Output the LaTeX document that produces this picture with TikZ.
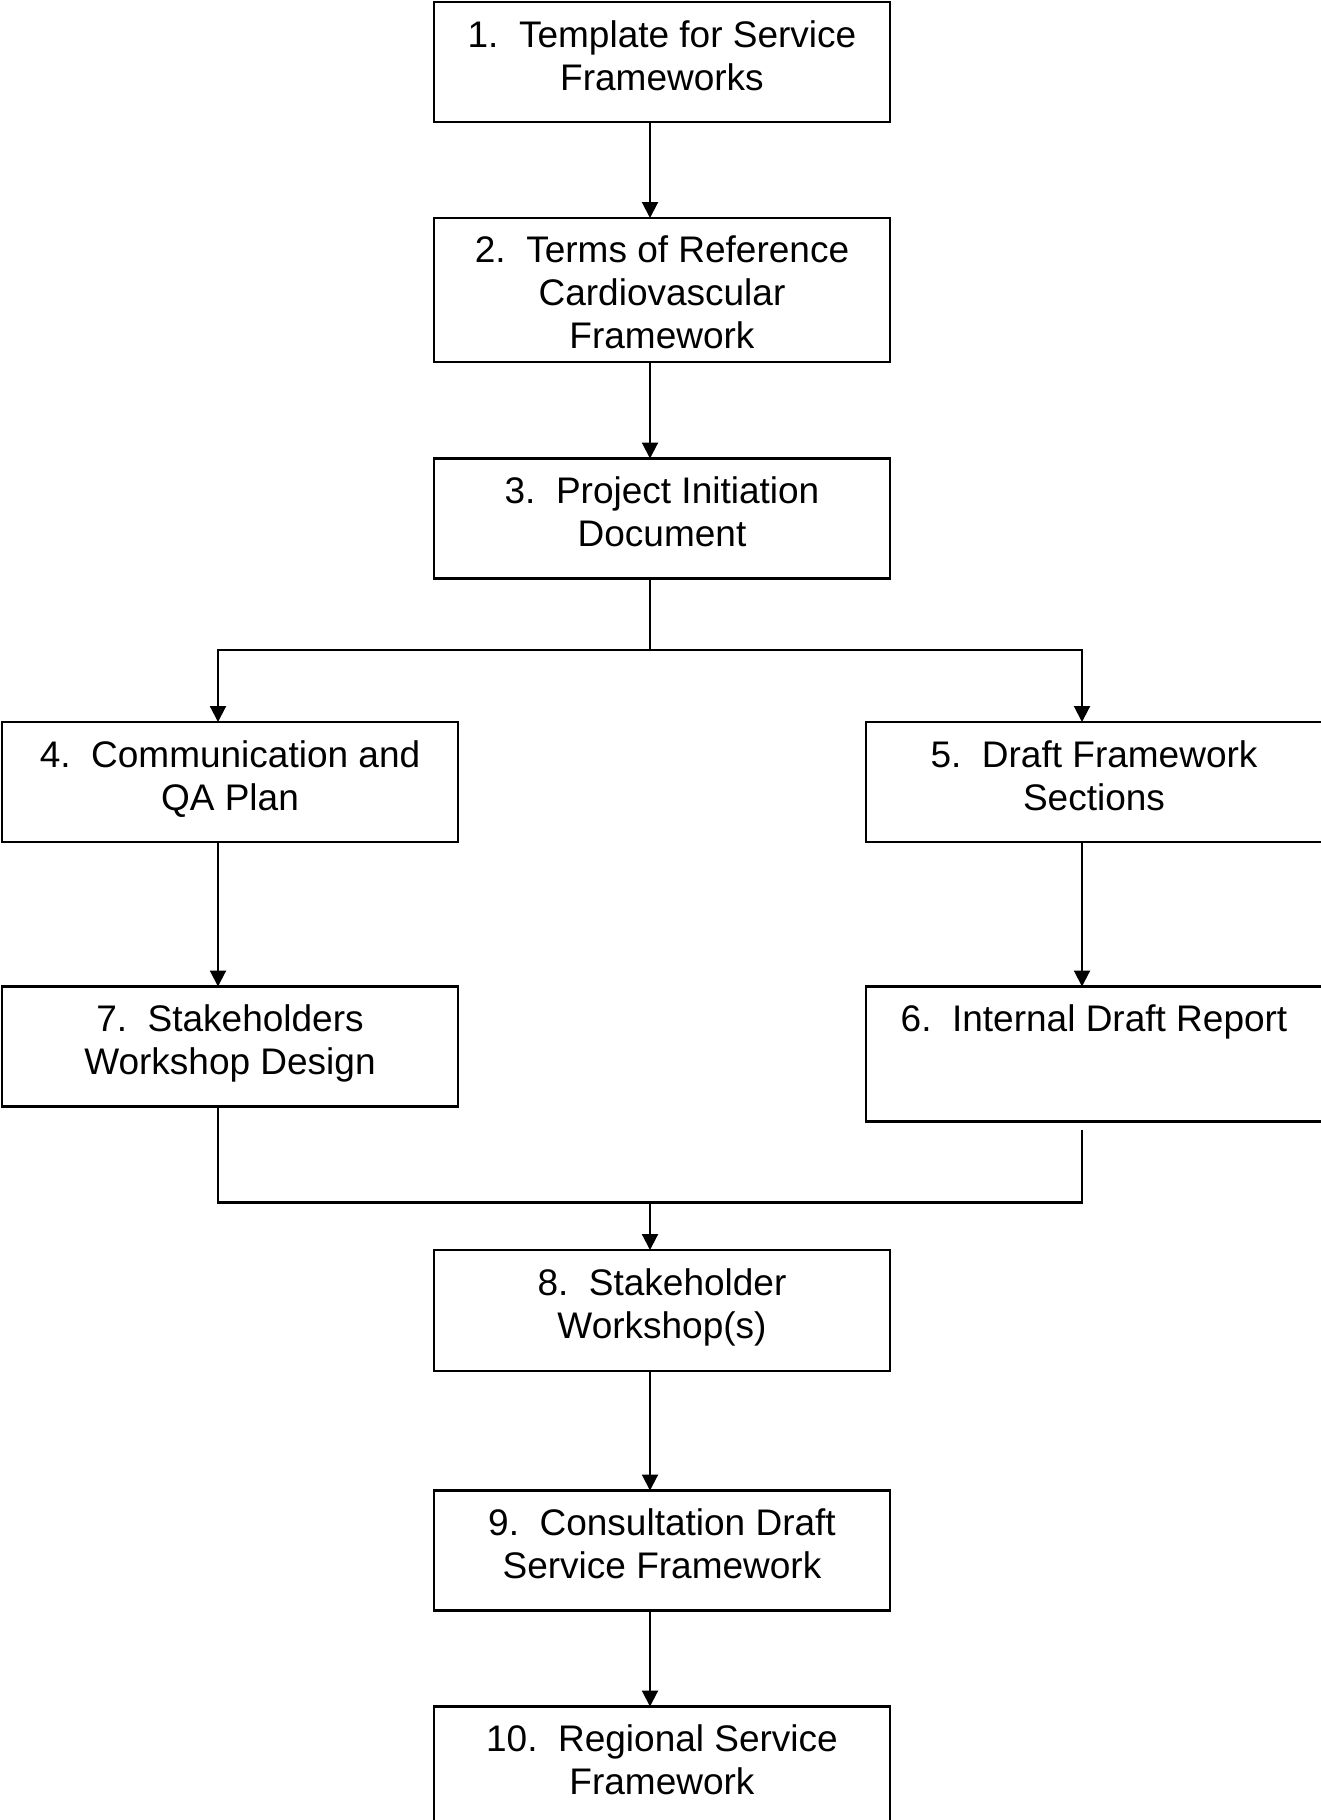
\documentclass[tikz,border=0pt]{standalone}
\usepackage{fontspec}
\setmainfont{Liberation Sans}
\usetikzlibrary{arrows.meta}
\begin{document}
\begin{tikzpicture}[x=1pt,y=-1pt,
  box/.style={draw, line width=2.1pt, rectangle, minimum width=456pt, inner sep=0pt, outer sep=0pt, anchor=north west},
  lbl/.style={font=\fontsize{37}{43}\selectfont, align=center, anchor=base, inner sep=0pt},
  arr/.style={line width=2.1pt, -{Triangle[length=16pt,width=16pt]}},
  ln/.style={line width=2.1pt}]
\useasboundingbox (0,0) rectangle (1321,1820);
\clip (0,0) rectangle (1321,1820);
% boxes
\node[box, minimum height=120pt] (b1) at (434,2) {};
\node[box, minimum height=144pt] (b2) at (434,218) {};
\node[box, minimum height=120pt] (b3) at (434,458.5) {};
\node[box, minimum height=120pt] (b4) at (2,722) {};
\node[box, minimum height=120pt, minimum width=460pt] (b5) at (866,722) {};
\node[box, minimum height=120pt] (b7) at (2,986.5) {};
\node[box, minimum height=135pt, minimum width=460pt] (b6) at (866,986.5) {};
\node[box, minimum height=121pt] (b8) at (434,1250) {};
\node[box, minimum height=120pt] (b9) at (434,1490.5) {};
\node[box, minimum height=130pt] (b10) at (434,1706.5) {};
% labels (anchor = baseline of last line)
\node[lbl] (t1) at (662,90) {1.\ \ Template for Service\\Frameworks};
\node[lbl] (t2) at (662,348) {2.\ \ Terms of Reference\\Cardiovascular\\Framework};
\node[lbl] (t3) at (662,546.5) {3.\ \ Project Initiation\\Document};
\node[lbl] (t4) at (230,810) {4.\ \ Communication and\\QA Plan};
\node[lbl] (t5) at (1094,810) {5.\ \ Draft Framework\\Sections};
\node[lbl] (t7) at (230,1074.5) {7.\ \ Stakeholders\\Workshop Design};
\node[lbl] (t6) at (1094,1031.5) {6.\ \ Internal Draft Report};
\node[lbl] (t8) at (662,1338) {8.\ \ Stakeholder\\Workshop(s)};
\node[lbl] (t9) at (662,1578.5) {9.\ \ Consultation Draft\\Service Framework};
\node[lbl] (t10) at (662,1794.5) {10.\ \ Regional Service\\Framework};
% connectors
\coordinate (split) at (650,650);
\coordinate (merge) at (650,1202.5);
\coordinate (gap6) at (1082,1129.5);
\draw[arr] ([xshift=-12pt]b1.south) -- ([xshift=-12pt]b2.north);
\draw[arr] ([xshift=-12pt]b2.south) -- ([xshift=-12pt]b3.north);
\draw[ln] ([xshift=-12pt]b3.south) -- (split);
\draw[arr] (split) -| ([xshift=-12pt]b4.north);
\draw[arr] (split) -| ([xshift=-14pt]b5.north);
\draw[arr] ([xshift=-12pt]b4.south) -- ([xshift=-12pt]b7.north);
\draw[arr] ([xshift=-14pt]b5.south) -- ([xshift=-14pt]b6.north);
\draw[ln] ([xshift=-12pt]b7.south) |- (gap6 |- merge) -- (gap6);
\draw[arr] (merge) -- ([xshift=-12pt]b8.north);
\draw[arr] ([xshift=-12pt]b8.south) -- ([xshift=-12pt]b9.north);
\draw[arr] ([xshift=-12pt]b9.south) -- ([xshift=-12pt]b10.north);
\end{tikzpicture}
\end{document}
